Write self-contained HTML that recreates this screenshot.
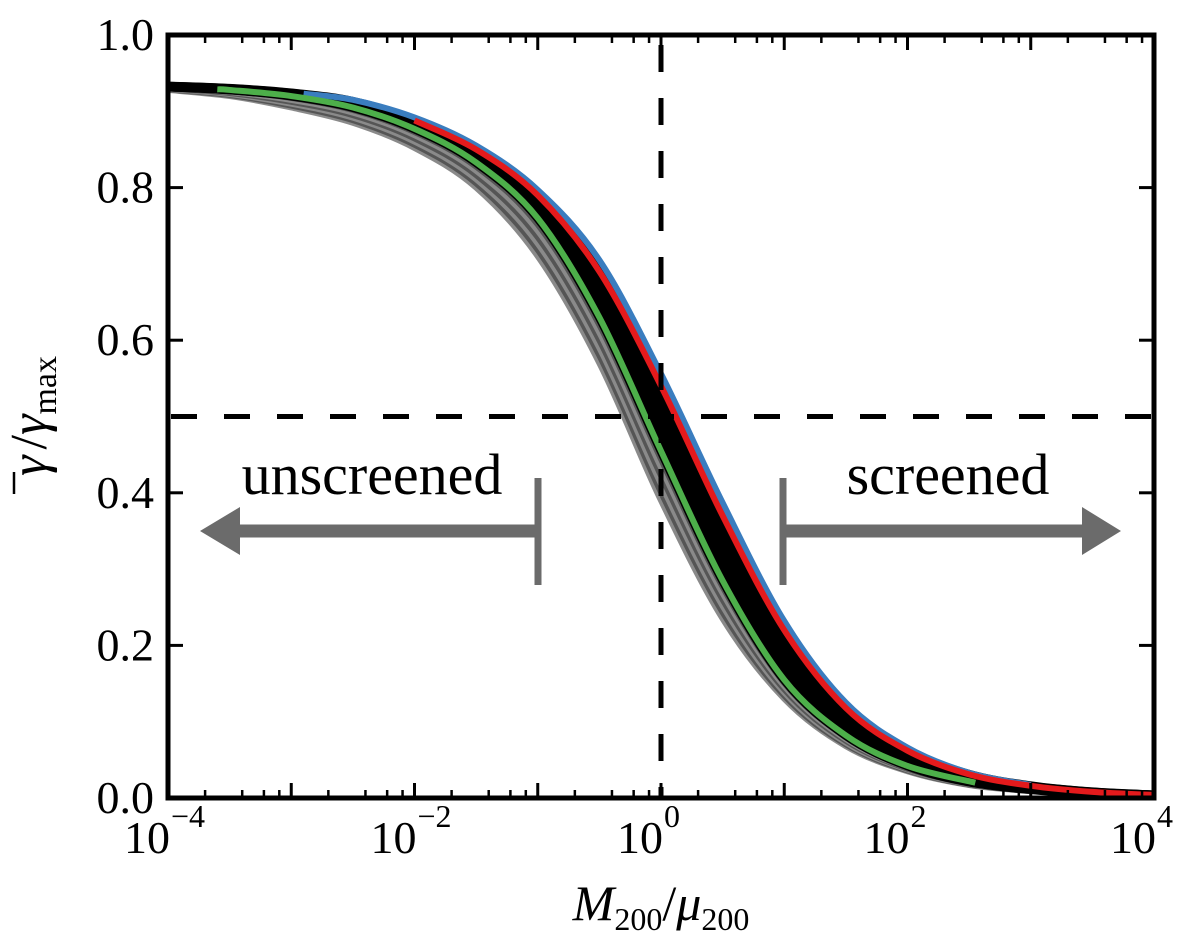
<!DOCTYPE html>
<html><head><meta charset="utf-8"><style>
html,body{margin:0;padding:0;background:#fff;}
svg{display:block;font-family:"Liberation Serif",serif;}
</style></head><body>
<svg id="chart" width="1200" height="943" viewBox="0 0 1200 943" xmlns="http://www.w3.org/2000/svg">
<g id="curves"></g>
<g id="axes"></g>
</svg>
<script>
const logX = [-4,-3.5,-3,-2.5,-2,-1.5,-1,-0.5,0,0.5,1,1.5,2,2.5,3,3.5,4];
const grayLow = [0.928,0.92,0.905,0.885,0.852,0.8,0.71,0.57,0.39,0.235,0.13,0.068,0.035,0.017,0.009,0.005,0.003];
const greenY = [0.932,0.928,0.92,0.905,0.877,0.833,0.76,0.63,0.455,0.285,0.155,0.082,0.042,0.021,0.011,0.006,0.003];
const redY = [0.933,0.930,0.924,0.913,0.888,0.85,0.79,0.69,0.54,0.37,0.22,0.118,0.062,0.031,0.016,0.008,0.004];
const blueY = [0.934,0.931,0.925,0.915,0.892,0.855,0.797,0.705,0.556,0.387,0.232,0.125,0.066,0.033,0.017,0.009,0.0045];
const yTicks = [0,0.2,0.4,0.6,0.8,1.0];
const yTickLabels = ["0.0","0.2","0.4","0.6","0.8","1.0"];
const xDecades = [-4,-2,0,2,4];

const NS="http://www.w3.org/2000/svg";
const L=168,R=1154,T=35,B=798;
const sx=v=>L+(v+4)/8*(R-L);
const sy=v=>B-v*(B-T);
function mk(tag,attrs,parent){const e=document.createElementNS(NS,tag);for(const k in attrs)e.setAttribute(k,attrs[k]);parent.appendChild(e);return e;}
function interp(ys,x){for(let i=0;i<logX.length-1;i++){if(x<=logX[i+1]){const t=(x-logX[i])/(logX[i+1]-logX[i]);return ys[i]+(ys[i+1]-ys[i])*t;}}return ys[ys.length-1];}
function pathFor(ys,x0,x1){const pts=[];for(let i=0;i<logX.length;i++){if(logX[i]>x0+0.05&&logX[i]<x1-0.05)pts.push([logX[i],ys[i]]);}
pts.unshift([x0,interp(ys,x0)]);pts.push([x1,interp(ys,x1)]);
const P=pts.map(p=>[sx(p[0]),sy(p[1])]);let d="M"+P[0][0]+","+P[0][1];
for(let i=0;i<P.length-1;i++){const p0=P[Math.max(0,i-1)],p1=P[i],p2=P[i+1],p3=P[Math.min(P.length-1,i+2)];
d+=" C"+(p1[0]+(p2[0]-p0[0])/6)+","+(p1[1]+(p2[1]-p0[1])/6)+" "+(p2[0]-(p3[0]-p1[0])/6)+","+(p2[1]-(p3[1]-p1[1])/6)+" "+p2[0]+","+p2[1];}return d;}
const cg=document.getElementById('curves');
for(let k=0;k<=6;k++){const f=k/6;const ys=grayLow.map((g,i)=>g+(greenY[i]-g)*f);
const p=mk('path',{d:pathFor(ys,-4,3),fill:'none',stroke:k%2?'#555':'#8a8a8a','stroke-width':6},cg);

}
for(let k=0;k<=8;k++){const f=k/8;const ys=greenY.map((g,i)=>g+(redY[i]-g)*f);
const p=mk('path',{d:pathFor(ys,-4,4),fill:'none',stroke:'#000','stroke-width':9},cg);

}
const bl=mk('path',{d:pathFor(blueY,-2.9,3),fill:'none',stroke:'#3a7dbf','stroke-width':6},cg);


const rd=mk('path',{d:pathFor(redY,-2,4),fill:'none',stroke:'#e41a1c','stroke-width':6},cg);


const gr=mk('path',{d:pathFor(greenY,-3.6,2.55),fill:'none',stroke:'#4daf4a','stroke-width':6},cg);



const ax=document.getElementById('axes');
const h=mk('line',{x1:L,x2:R,y1:sy(0.5),y2:sy(0.5),stroke:'#000','stroke-width':5,'stroke-dasharray':'26,27','stroke-dashoffset':'-3'},ax);


const v=mk('line',{x1:sx(0),x2:sx(0),y1:T,y2:B,stroke:'#000','stroke-width':5,'stroke-dasharray':'27,26','stroke-dashoffset':'-10'},ax);


const ag=mk('g',{fill:'#6b6b6b',stroke:'#6b6b6b'},ax);


mk('line',{x1:538,x2:538,y1:478,y2:585,'stroke-width':7},ag);
mk('line',{x1:538,x2:235,y1:531,y2:531,'stroke-width':13},ag);
mk('polygon',{points:'200,531 240,507 240,555',stroke:'none'},ag);
mk('line',{x1:783,x2:783,y1:478,y2:585,'stroke-width':7},ag);
mk('line',{x1:783,x2:1088,y1:531,y2:531,'stroke-width':13},ag);
mk('polygon',{points:'1121,531 1082,507 1082,555',stroke:'none'},ag);
const t1=mk('text',{x:372,y:494,'font-size':58,'text-anchor':'middle',fill:'#000'},ax);t1.textContent='unscreened';


const t2=mk('text',{x:948,y:494,'font-size':58,'text-anchor':'middle',fill:'#000'},ax);t2.textContent='screened';


const fr=mk('rect',{x:L,y:T,width:R-L,height:B-T,fill:'none',stroke:'#000','stroke-width':5},ax);


for(let d=-4;d<=4;d++){const x=sx(d);
mk('line',{x1:x,x2:x,y1:B,y2:B-15,stroke:'#000','stroke-width':3},ax);
mk('line',{x1:x,x2:x,y1:T,y2:T+15,stroke:'#000','stroke-width':3},ax);
if(d<4)for(const m of [2,4,6,8]){const xm=sx(d+Math.log10(m));
mk('line',{x1:xm,x2:xm,y1:B,y2:B-8,stroke:'#000','stroke-width':2.5},ax);
mk('line',{x1:xm,x2:xm,y1:T,y2:T+8,stroke:'#000','stroke-width':2.5},ax);}}
xDecades.forEach(d=>{const t=mk('text',{x:sx(d)+2,y:853,'font-size':46,'text-anchor':'end',fill:'#000'},ax);
t.textContent='10';


const e=mk('text',{x:sx(d)+3,y:827,'font-size':32,fill:'#000'},ax);e.textContent=d<0?'\u2212'+(-d):String(d);});
yTicks.forEach((val,i)=>{const y=sy(val);
mk('line',{x1:L,x2:L+15,y1:y,y2:y,stroke:'#000','stroke-width':3},ax);
mk('line',{x1:R,x2:R-15,y1:y,y2:y,stroke:'#000','stroke-width':3},ax);
const t=mk('text',{x:154,y:y+15,'font-size':46,'text-anchor':'end',fill:'#000'},ax);t.textContent=yTickLabels[i];

});
const xt=mk('text',{x:661,y:920,'font-size':50,'text-anchor':'middle',fill:'#000'},ax);
xt.innerHTML='<tspan font-style="italic">M</tspan><tspan font-size="32" dy="10">200</tspan><tspan dy="-10">/</tspan><tspan font-style="italic">μ</tspan><tspan font-size="32" dy="10">200</tspan>';


const yt=mk('text',{x:0,y:0,'font-size':52,'text-anchor':'middle',fill:'#000',transform:'translate(46,416) rotate(-90)'},ax);
yt.innerHTML='<tspan font-style="italic">γ</tspan><tspan dx="6">/</tspan><tspan font-style="italic">γ</tspan><tspan font-size="34" dy="10">max</tspan>';


const ob=mk('line',{x1:14,x2:14,y1:472,y2:494,stroke:'#000','stroke-width':2.5},ax);


</script>
</body></html>
